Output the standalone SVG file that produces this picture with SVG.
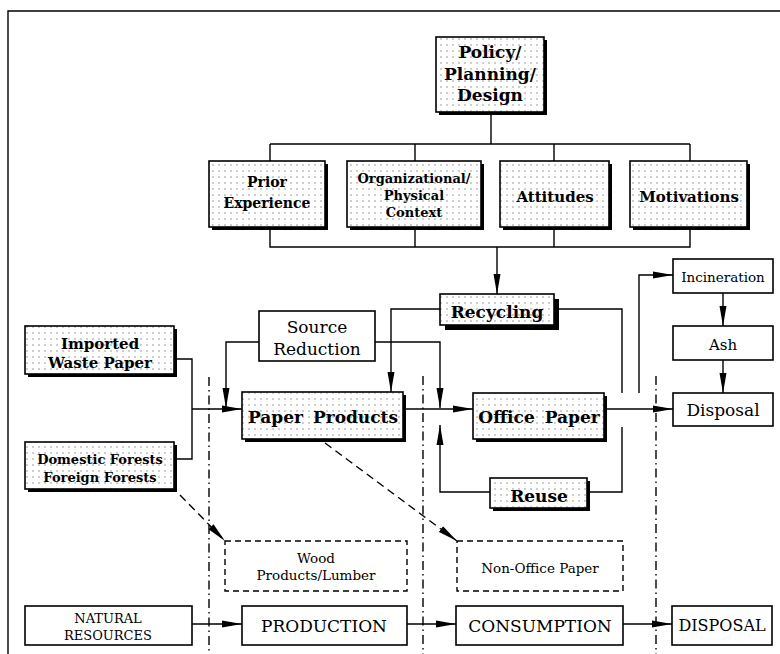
<svg xmlns="http://www.w3.org/2000/svg" width="780" height="654" viewBox="0 0 780 654">
<style>
.box{fill:#fff;stroke:#000;stroke-width:1.6}
.dot{fill:url(#dots);stroke:#000;stroke-width:1.6}
.sh{fill:#000}
.dash{fill:none;stroke:#000;stroke-width:1.4;stroke-dasharray:6 4}
.ln{fill:none;stroke:#000;stroke-width:1.4}
.arr{fill:none;stroke:#000;stroke-width:1.4;marker-end:url(#ah)}
.darr{fill:none;stroke:#000;stroke-width:1.4;stroke-dasharray:8 5;marker-end:url(#ah)}
.dd{fill:none;stroke:#000;stroke-width:1.4;stroke-dasharray:9 4 1.5 4}
text{font-family:'DejaVu Serif',serif;fill:#000;text-anchor:middle}
.b{font-weight:bold}
</style>
<defs>
<pattern id="dots" width="6" height="6" patternUnits="userSpaceOnUse">
<rect width="6" height="6" fill="#fff"/>
<circle cx="3" cy="3" r="0.7" fill="#777"/>
</pattern>
<marker id="ah" markerWidth="20" markerHeight="8" refX="20" refY="4" orient="auto" markerUnits="userSpaceOnUse">
<path d="M0,0.5 L20,4 L0,7.5 z" fill="#000"/>
</marker>
</defs>

<g id="frame">
<path class="ln" d="M8,654 L8,11 L780,11" stroke-width="1.8"/>
</g>

<g id="dividers">
<line class="dd" x1="209" y1="377" x2="209" y2="654"/>
<line class="dd" x1="423" y1="376" x2="423" y2="654"/>
<line class="dd" x1="656" y1="376" x2="656" y2="654"/>
</g>

<g id="connectors">
<path class="ln" d="M491,112 L491,144 M270,144 L690,144 M270,144 L270,161 M415,144 L415,161 M554,144 L554,161 M690,144 L690,161"/>
<path class="ln" d="M270,228 L270,247 L690,247 L690,228 M415,228 L415,247 M554,228 L554,247"/>
<path class="arr" d="M497,247 L497,294"/>
<path class="ln" d="M177,359 L192,359 L192,459 L177,459"/>
<path class="arr" d="M192,409 L242,409"/>
<path class="arr" d="M259,342 L226,342 L226,408"/>
<path class="arr" d="M375,342 L440,342 L440,408"/>
<path class="arr" d="M440,309 L391,309 L391,392"/>
<path class="arr" d="M406,409 L473,409"/>
<path class="arr" d="M490,492 L440,492 L440,425"/>
<path class="ln" d="M559,309 L622,309 L622,393"/>
<path class="ln" d="M590,492 L622,492 L622,427"/>
<path class="arr" d="M607,409 L673,409"/>
<path class="arr" d="M639,393 L639,275 L673,275"/>
<path class="arr" d="M723,293 L723,326"/>
<path class="arr" d="M723,360 L723,393"/>
<path class="arr" d="M192,624 L242,624"/>
<path class="arr" d="M407,624 L456,624"/>
<path class="arr" d="M623,624 L672,624"/>
<path class="darr" d="M180,495 L225,541"/>
<path class="darr" d="M325,443 L457,541"/>
</g>

<g id="policy">
<rect class="sh" x="439" y="40" width="108" height="75"/>
<rect class="dot" x="436" y="37" width="108" height="75"/>
<text class="b" x="490" y="58" font-size="17">Policy/</text>
<text class="b" x="490" y="80" font-size="17">Planning/</text>
<text class="b" x="490" y="101" font-size="17">Design</text>
</g>

<g id="prior">
<rect class="sh" x="212" y="164" width="116" height="66"/>
<rect class="dot" x="209" y="161" width="116" height="66"/>
<text class="b" x="267" y="187" font-size="14">Prior</text>
<text class="b" x="267" y="208" font-size="14">Experience</text>
</g>

<g id="org">
<rect class="sh" x="350" y="164" width="134" height="66"/>
<rect class="dot" x="347" y="161" width="134" height="66"/>
<text class="b" x="414" y="183" font-size="13">Organizational/</text>
<text class="b" x="414" y="200" font-size="13">Physical</text>
<text class="b" x="414" y="217" font-size="13">Context</text>
</g>

<g id="attitudes">
<rect class="sh" x="503" y="164" width="109" height="66"/>
<rect class="dot" x="500" y="161" width="109" height="66"/>
<text class="b" x="555" y="202" font-size="15">Attitudes</text>
</g>

<g id="motivations">
<rect class="sh" x="633" y="164" width="117" height="66"/>
<rect class="dot" x="630" y="161" width="117" height="66"/>
<text class="b" x="689" y="202" font-size="15">Motivations</text>
</g>

<g id="recycling">
<rect class="sh" x="445" y="299" width="114" height="31"/>
<rect class="dot" x="440" y="294" width="114" height="31"/>
<text class="b" x="497" y="318" font-size="17">Recycling</text>
</g>

<g id="imported">
<rect class="sh" x="28" y="329" width="149" height="48"/>
<rect class="dot" x="25" y="326" width="149" height="48"/>
<text class="b" x="100" y="349" font-size="15">Imported</text>
<text class="b" x="100" y="368" font-size="15">Waste Paper</text>
</g>

<g id="forests">
<rect class="sh" x="28" y="445" width="149" height="47"/>
<rect class="dot" x="25" y="442" width="149" height="47"/>
<text class="b" x="100" y="464" font-size="13">Domestic Forests</text>
<text class="b" x="100" y="482" font-size="13">Foreign Forests</text>
</g>

<g id="source">
<rect class="box" x="259" y="311" width="116" height="50"/>
<text x="317" y="333" font-size="17">Source</text>
<text x="317" y="355" font-size="17">Reduction</text>
</g>

<g id="paperproducts">
<rect class="sh" x="245" y="395" width="161" height="47"/>
<rect class="dot" x="242" y="392" width="161" height="47"/>
<text class="b" x="323" y="423" font-size="17" word-spacing="4">Paper Products</text>
</g>

<g id="officepaper">
<rect class="sh" x="476" y="396" width="131" height="46"/>
<rect class="dot" x="473" y="393" width="131" height="46"/>
<text class="b" x="539" y="423" font-size="17" word-spacing="4">Office Paper</text>
</g>

<g id="reuse">
<rect class="sh" x="493" y="481" width="97" height="30"/>
<rect class="dot" x="490" y="478" width="97" height="30"/>
<text class="b" x="539" y="502" font-size="17">Reuse</text>
</g>

<g id="incineration">
<rect class="box" x="673" y="259" width="100" height="34"/>
<text x="723" y="282" font-size="13.5">Incineration</text>
</g>

<g id="ash">
<rect class="box" x="673" y="326" width="100" height="34"/>
<text x="723" y="350" font-size="15">Ash</text>
</g>

<g id="disposal">
<rect class="box" x="673" y="393" width="100" height="33"/>
<text x="723" y="416" font-size="17">Disposal</text>
</g>

<g id="wood">
<rect class="dash" x="225" y="541" width="182" height="50"/>
<text x="316" y="563" font-size="13.5">Wood</text>
<text x="316" y="580" font-size="13.5">Products/Lumber</text>
</g>

<g id="nonoffice">
<rect class="dash" x="457" y="541" width="166" height="50"/>
<text x="540" y="573" font-size="13.5">Non-Office Paper</text>
</g>

<g id="natural">
<rect class="box" x="25" y="606" width="167" height="39"/>
<text x="108" y="623" font-size="13">NATURAL</text>
<text x="108" y="640" font-size="13">RESOURCES</text>
</g>

<g id="production">
<rect class="box" x="242" y="606" width="165" height="39"/>
<text x="324" y="632" font-size="17">PRODUCTION</text>
</g>

<g id="consumption">
<rect class="box" x="456" y="606" width="167" height="39"/>
<text x="540" y="632" font-size="17">CONSUMPTION</text>
</g>

<g id="disposal2">
<rect class="box" x="672" y="606" width="100" height="39"/>
<text x="722" y="631" font-size="16">DISPOSAL</text>
</g>
</svg>
